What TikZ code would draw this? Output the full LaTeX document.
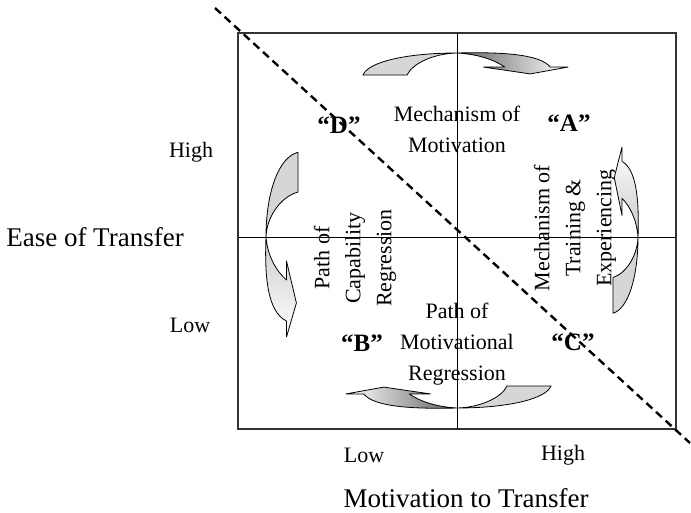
\documentclass[tikz,border=0pt]{standalone}
\usepackage{fontspec}
\setmainfont{Liberation Serif}
% One bent ribbon arrow in its own frame: u runs along the arrow (tail at u<0,
% head at u>0), v runs across it; the twist of the ribbon sits at (0,0).
\newcommand{\bentribbon}[2]{%
  \path[arrowedge,#1] (0,0) .. controls (-0.45,0) and (-0.8,0.4) .. (-0.847,1)
    -- (-0.45,1) .. controls (-0.4,0.45) and (-0.2,0.02) .. (0,0) -- cycle;
  \path[arrowedge,#2] (0,0) .. controls (0.4,-0.05) and (0.75,0.05) .. (0.84,0.64)
    -- (1,0.64) -- (0.66,0.95) -- (0.24,0.64) -- (0.43,0.64)
    .. controls (0.35,0.35) and (0.2,0.05) .. (0,0) -- cycle;
}
\begin{document}
\begin{tikzpicture}[x=1pt,y=-1pt,
  lbl/.style={font=\fontsize{22}{31}\selectfont, inner sep=0pt, align=center},
  axislbl/.style={font=\fontsize{27}{32}\selectfont, inner sep=0pt},
  quad/.style={font=\fontsize{25}{30}\selectfont\bfseries, inner sep=0pt},
  frame/.style={draw=black!80, line width=1.1pt},
  axis/.style={draw=black, line width=0.9pt},
  arrowedge/.style={draw=black, line width=0.8pt, line join=round},
  tailfill/.style={fill=black!16},
  divider/.style={draw=black, dash pattern=on 8pt off 5pt, line width=2.4pt}
]
\useasboundingbox (0,0) rectangle (691,512);

% grid of the four quadrants
\coordinate (nw) at (238,33);
\coordinate (se) at (676,429);
\coordinate (n) at (457,33);
\coordinate (s) at (457,429);
\coordinate (w) at (238,237);
\coordinate (e) at (676,237);
\draw[frame] (nw) rectangle (se);
\draw[axis] (n) -- (s);
\draw[axis] (w) -- (e);

% axis labels
\node[lbl] (yhigh) at (191,152) {High};
\node[lbl] (ylow) at (190,325) {Low};
\node[axislbl] (ytitle) at (95,237) {Ease of Transfer};
\node[lbl] (xlow) at (364,455) {Low};
\node[lbl] (xhigh) at (563,455) {High};
\node[axislbl] (xtitle) at (466,498) {Motivation to Transfer};

% quadrant names
\node[quad] (qd) at (339,125) {“D”};
\node[quad] (qa) at (569,123) {“A”};
\node[quad] (qb) at (362,343) {“B”};
\node[quad] (qc) at (573,342) {“C”};

% mechanisms and paths
\node[lbl] (motiv) at (457,129) {Mechanism of\\Motivation};
\node[lbl] (motreg) at (457,344) {Path of\\Motivational\\Regression};
\node[lbl, rotate=90] (capreg) at (355,258) {Path of\\Capability\\Regression};
\node[lbl, rotate=90] (train) at (575,228) {Mechanism of\\Training \&\\Experiencing};

% bent arrows round the four sides
\begin{scope}[shift={(457,53)}, x={(111pt,0pt)}, y={(0pt,-22pt)}]
  \bentribbon{tailfill}{left color=black!62, middle color=black!12, right color=white}
\end{scope}
\begin{scope}[shift={(457,408)}, x={(-111pt,0pt)}, y={(0pt,22pt)}]
  \bentribbon{tailfill}{left color=white, middle color=black!12, right color=black!62}
\end{scope}
\begin{scope}[shift={(266,237)}, x={(0pt,-100pt)}, y={(32pt,0pt)}]
  \bentribbon{tailfill}{top color=black!20, bottom color=white}
\end{scope}
\begin{scope}[shift={(638,237)}, x={(0pt,90pt)}, y={(-25pt,0pt)}]
  \bentribbon{tailfill}{bottom color=black!22, top color=white}
\end{scope}

% diagonal divider
\coordinate (d1) at (215,8);
\coordinate (d2) at (690,443);
\draw[divider] (d1) -- (d2);
\end{tikzpicture}
\end{document}
